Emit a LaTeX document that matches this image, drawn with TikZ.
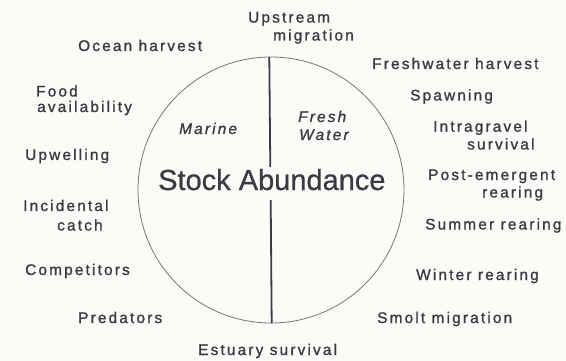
\documentclass[tikz,border=0pt]{standalone}
\usepackage{fontspec}
\setmainfont{Liberation Sans}
\newfontfamily\labfont[LetterSpace=14,FakeBold=1.2]{Liberation Sans}
\newfontfamily\bigfont[FakeBold=0.6]{Liberation Sans}
\definecolor{ink}{HTML}{3A3C45}
\definecolor{rim}{HTML}{76777B}
\definecolor{bar}{HTML}{3A3E4C}
\definecolor{paper}{HTML}{FBFBF8}
\tikzset{
  lab/.style={anchor=base west, inner sep=0pt, text=ink, font=\labfont\fontsize{15.4}{18}\selectfont},
  ital/.style={lab, font=\labfont\fontsize{15.4}{18}\selectfont\itshape},
  big/.style={anchor=base west, inner sep=0pt, text=ink, font=\bigfont\fontsize{29}{34}\selectfont},
}
\begin{document}
\begin{tikzpicture}[x=1pt,y=-1pt]
\fill[paper] (0,0) rectangle (566,361);
\useasboundingbox (0,0) rectangle (566,361);
% circle
\node[circle, draw=rim, line width=0.8pt, minimum size=266pt, inner sep=0pt] (ring) at (271,190) {};
% dividing line
\coordinate (ltop) at (269.3,57);
\coordinate (lmid1) at (270.3,167);
\coordinate (lmid2) at (270.7,200);
\coordinate (lbot) at (271.7,323);
\draw[bar, line width=1.8pt] (ltop) -- (lmid1);
\draw[bar, line width=1.8pt] (lmid2) -- (lbot);
% inside
\node[big] (stock) at (158,190) {Stock Abundance};
\node[ital] (marine) at (179,134) {Marine};
\node[ital] (fresh) at (298,122) {Fresh};
\node[ital] (water) at (299,140) {Water};
% marine side
\node[lab] (ocean) at (78,51) {Ocean harvest};
\node[lab] (food1) at (36,96.5) {Food};
\node[lab] (food2) at (37,112) {availability};
\node[lab] (upw) at (25,160) {Upwelling};
\node[lab] (inc1) at (23,211) {Incidental};
\node[lab] (inc2) at (57,230.5) {catch};
\node[lab] (comp) at (25,275) {Competitors};
\node[lab] (pred) at (78,323) {Predators};
\node[lab] (est) at (198,355) {Estuary survival};
% fresh side
\node[lab] (ups1) at (248,22.5) {Upstream};
\node[lab] (ups2) at (273,40.5) {migration};
\node[lab] (fwh) at (372,69) {Freshwater harvest};
\node[lab] (spawn) at (410,100.5) {Spawning};
\node[lab] (intra1) at (433,131.7) {Intragravel};
\node[lab] (intra2) at (467,149.5) {survival};
\node[lab] (post1) at (428,180) {Post-emergent};
\node[lab] (post2) at (482,197.5) {rearing};
\node[lab] (summer) at (425,229.5) {Summer rearing};
\node[lab] (winter) at (416,280) {Winter rearing};
\node[lab] (smolt) at (377,323) {Smolt migration};
\end{tikzpicture}
\end{document}
